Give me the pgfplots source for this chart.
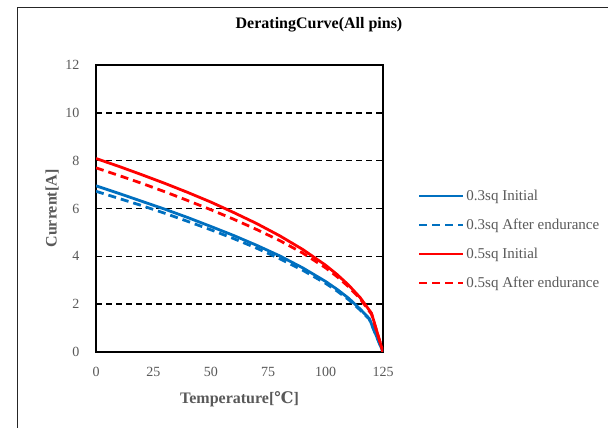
\documentclass[border=0pt]{standalone}
\usepackage{pgfplots}
\pgfplotsset{compat=1.18}
\usepackage{fontspec}
\setmainfont{Liberation Serif}
\newfontfamily\symfont{DejaVu Serif}
\definecolor{cblue}{HTML}{0070C0}
\definecolor{cred}{HTML}{FF0000}
\definecolor{tgray}{HTML}{595959}
\begin{document}
\begin{tikzpicture}
\useasboundingbox (0,0) rectangle (608pt,428pt);
\fill[white] (0,0) rectangle (608pt,428pt);
\draw[line width=1.6pt, black!85] (17.5pt,0pt) -- (17.5pt,420.5pt) -- (608pt,420.5pt);
\begin{axis}[
    at={(96pt,76pt)}, anchor=south west,
    scale only axis, width=287pt, height=287pt,
    xmin=0, xmax=125, ymin=0, ymax=12,
    xtick={0,25,...,125}, ytick={0,2,...,12},
    major tick length=0pt,
    xticklabel shift=12pt, yticklabel shift=13pt,
    tick label style={font=\fontsize{14}{16}\selectfont, text=tgray},
    /pgf/number format/assume math mode=true,
    axis line style={line width=1.4pt, black},
    ymajorgrids,
    major grid style={line width=1.5pt, black, dash pattern=on 6pt off 4pt},
    title={DeratingCurve(All pins)},
    title style={at={(axis description cs:0.777,1.118)}, anchor=center,
        font=\bfseries\fontsize{16}{18}\selectfont},
    xlabel={Temperature[{\symfont ℃}]},
    xlabel style={at={(axis description cs:0.5,-0.164)}, anchor=center,
        font=\bfseries\fontsize{16}{18}\selectfont, text=tgray},
    ylabel={Current[A]},
    ylabel style={at={(axis description cs:-0.153,0.5)}, anchor=center,
        font=\bfseries\fontsize{16}{18}\selectfont, text=tgray},
    legend style={at={(axis description cs:1.12,0.392)}, anchor=west,
        draw=none, fill=none, font=\fontsize{15}{17}\selectfont, text=tgray,
        row sep=13pt, inner sep=0pt},
    legend cell align=left,
    legend image code/.code={\draw[#1] (0pt,0pt) -- (44pt,0pt);},
]
\addplot[cblue, line width=2.8pt] coordinates {
    (0,6.95) (10,6.63) (20,6.30) (30,5.97) (40,5.62) (50,5.25) (60,4.87)
    (70,4.46) (80,4.02) (90,3.52) (100,2.95) (105,2.62) (110,2.25)
    (115,1.80) (119,1.40) (125,0)
};
\addlegendentry{0.3sq Initial}
\addplot[cblue, line width=2.8pt, dash pattern=on 8pt off 5pt] coordinates {
    (0,6.72) (10,6.42) (20,6.12) (30,5.80) (40,5.46) (50,5.11) (60,4.74)
    (70,4.34) (80,3.90) (90,3.42) (100,2.87) (105,2.55) (110,2.19)
    (115,1.76) (119,1.38) (125,0)
};
\addlegendentry{0.3sq After endurance}
\addplot[cred, line width=2.8pt] coordinates {
    (0,8.09) (10,7.76) (20,7.41) (30,7.05) (40,6.67) (50,6.27) (60,5.83)
    (70,5.37) (80,4.86) (90,4.29) (100,3.63) (105,3.24) (110,2.80)
    (115,2.28) (120,1.62) (125,0)
};
\addlegendentry{0.5sq Initial}
\addplot[cred, line width=2.8pt, dash pattern=on 8pt off 5pt] coordinates {
    (0,7.70) (10,7.38) (20,7.05) (30,6.70) (40,6.33) (50,5.95) (60,5.55)
    (70,5.12) (80,4.66) (90,4.14) (100,3.52) (105,3.15) (110,2.73)
    (115,2.23) (120,1.58) (125,0)
};
\addlegendentry{0.5sq After endurance}
\end{axis}
\end{tikzpicture}
\end{document}
